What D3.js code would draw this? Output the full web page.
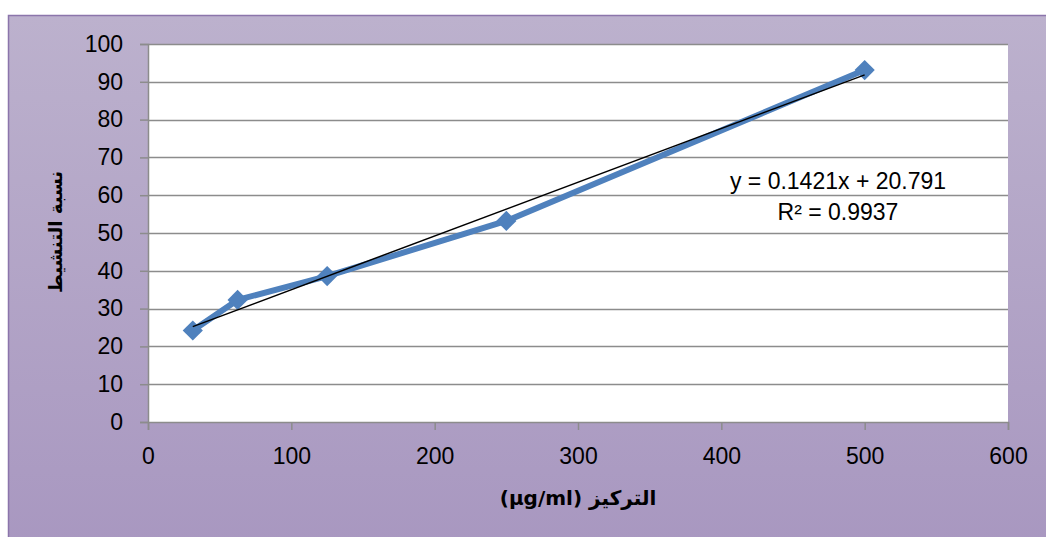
<!DOCTYPE html>
<html>
<head>
<meta charset="utf-8">
<script src="https://cdn.jsdelivr.net/npm/d3@7"></script>
<style>
  body { margin: 0; background: #ffffff; }
  svg { display: block; }
</style>
</head>
<body>
<script>
// Data
var concentrations = [31.25, 62.5, 125, 250, 500];
var activation = [24.2, 32.3, 38.6, 53.2, 93.1];
var xTicks = [0, 100, 200, 300, 400, 500, 600];
var yTicks = [0, 10, 20, 30, 40, 50, 60, 70, 80, 90, 100];
var slope = 0.1421;
var intercept = 20.791;
var eqLines = ["y = 0.1421x + 20.791", "R² = 0.9937"];

var svgWidth = 1046;
var svgHeight = 537;
var plot = { left: 148, top: 44, right: 1008, bottom: 422 };

var svg = d3.select("body")
    .append("svg")
    .attr("width", svgWidth)
    .attr("height", svgHeight);

// background gradient
var grad = svg.append("defs").append("linearGradient")
    .attr("id", "bg")
    .attr("x1", 0).attr("y1", 0).attr("x2", 0).attr("y2", 1);
grad.append("stop").attr("offset", "0%").attr("stop-color", "#bcb1cd");
grad.append("stop").attr("offset", "100%").attr("stop-color", "#a897c0");

svg.append("rect")
    .attr("x", 8.5).attr("y", 15.5)
    .attr("width", svgWidth).attr("height", svgHeight)
    .attr("fill", "url(#bg)")
    .attr("stroke", "#8b75ab")
    .attr("stroke-width", 1.5);

// plot area
svg.append("rect")
    .attr("x", plot.left).attr("y", plot.top)
    .attr("width", plot.right - plot.left)
    .attr("height", plot.bottom - plot.top)
    .attr("fill", "#ffffff");

var xScale = d3.scaleLinear().domain([0, 600]).range([plot.left, plot.right]);
var yScale = d3.scaleLinear().domain([0, 100]).range([plot.bottom, plot.top]);

var font = "Liberation Sans, Arial, sans-serif";

// gridlines
svg.append("g")
    .selectAll("line")
    .data(yTicks.filter(d => d > 0))
    .enter()
    .append("line")
    .attr("x1", plot.left).attr("x2", plot.right)
    .attr("y1", d => Math.round(yScale(d)) + 0.5)
    .attr("y2", d => Math.round(yScale(d)) + 0.5)
    .attr("stroke", "#8c8c8c")
    .attr("stroke-width", 1.5);

// axes
var yAxis = d3.axisLeft(yScale).tickValues(yTicks).tickSize(8).tickPadding(17);
var xAxis = d3.axisBottom(xScale).tickValues(xTicks).tickSize(8).tickPadding(18);

var yg = svg.append("g")
    .attr("transform", `translate(${plot.left}, 0)`)
    .call(yAxis);
var xg = svg.append("g")
    .attr("transform", `translate(0, ${plot.bottom})`)
    .call(xAxis);

[xg, yg].forEach(function (g) {
    g.select(".domain").attr("stroke", "#8c8c8c").attr("stroke-width", 1.5);
    g.selectAll(".tick line").attr("stroke", "#8c8c8c").attr("stroke-width", 1.5);
    g.selectAll(".tick text")
        .attr("fill", "#000")
        .style("font-family", font)
        .style("font-size", "23px");
});

// data line
var line = d3.line()
    .x((d, i) => xScale(concentrations[i]))
    .y(d => yScale(d));

svg.append("path")
    .datum(activation)
    .attr("d", line)
    .attr("fill", "none")
    .attr("stroke", "#4f81bd")
    .attr("stroke-width", 6)
    .attr("stroke-linejoin", "round");

// markers
svg.append("g")
    .selectAll("path")
    .data(activation)
    .enter()
    .append("path")
    .attr("d", d3.symbol().type(d3.symbolDiamond2).size(260))
    .attr("transform", (d, i) => `translate(${xScale(concentrations[i])}, ${yScale(d)})`)
    .attr("fill", "#4f81bd");

// linear trendline
var xMin = d3.min(concentrations);
var xMax = d3.max(concentrations);
svg.append("line")
    .attr("x1", xScale(xMin)).attr("y1", yScale(slope * xMin + intercept))
    .attr("x2", xScale(xMax)).attr("y2", yScale(slope * xMax + intercept))
    .attr("stroke", "#000")
    .attr("stroke-width", 1.5);

// equation label
svg.append("g")
    .selectAll("text")
    .data(eqLines)
    .enter()
    .append("text")
    .attr("x", 838)
    .attr("y", (d, i) => 189 + i * 31)
    .attr("text-anchor", "middle")
    .style("font-family", font)
    .style("font-size", "23px")
    .text(d => d);

// axis titles
svg.append("text")
    .attr("x", 578)
    .attr("y", 505)
    .attr("text-anchor", "middle")
    .attr("direction", "rtl")
    .style("font-family", "DejaVu Sans, sans-serif")
    .style("font-weight", "bold")
    .style("font-size", "20px")
    .text("التركيز (µg/ml)");

svg.append("text")
    .attr("transform", "translate(62, 232) rotate(-90)")
    .attr("text-anchor", "middle")
    .attr("direction", "rtl")
    .style("font-family", "DejaVu Sans, sans-serif")
    .style("font-weight", "bold")
    .style("font-size", "18px")
    .text("نسبة التنشيط");
</script>
</body>
</html>
